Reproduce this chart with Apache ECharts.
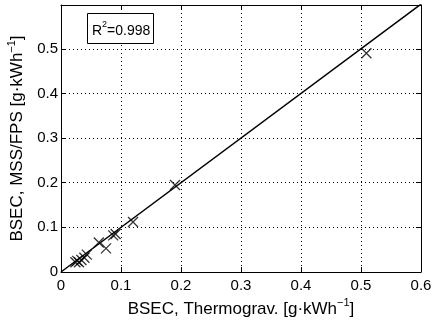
<!DOCTYPE html>
<html><head><meta charset="utf-8">
<script src="https://cdn.jsdelivr.net/npm/echarts@6/dist/echarts.min.js"></script>
<style>html,body{margin:0;padding:0;background:#fff}#c{width:432px;height:321px}</style>
</head><body><div id="c"></div>
<script>
var xThermo = [0.509, 0.190, 0.120, 0.087, 0.091, 0.075, 0.063, 0.043, 0.039, 0.034, 0.030, 0.027, 0.024];
var yMSS    = [0.490, 0.195, 0.112, 0.082, 0.085, 0.053, 0.066, 0.039, 0.032, 0.027, 0.022, 0.025, 0.022];
var fitLine = [[0, 0], [0.6, 0.6]];
var xTicks = [0, 0.1, 0.2, 0.3, 0.4, 0.5, 0.6];
var yTicks = [0, 0.1, 0.2, 0.3, 0.4, 0.5];
var r2Text = '{a|R}{s|2}{a|=0.998}';

var font = 'Liberation Sans, Arial, Helvetica, sans-serif';
var chart = echarts.init(document.getElementById('c'), null, {renderer: 'canvas'});
function fmt(v){ return v === 0 ? '0' : String(+v.toFixed(1)); }
var commonAxis = {
  axisLine: {show: true, onZero: false, lineStyle: {color: '#000', width: 1}},
  axisTick: {show: true, inside: true, length: 5, lineStyle: {color: '#000'}},
  splitLine: {show: true, lineStyle: {color: '#000', type: [1, 3], width: 1}},
};
var titleRich = {
  a: {fontFamily: font, fontSize: 17, color: '#000', lineHeight: 20, verticalAlign: 'bottom'},
  s: {fontFamily: font, fontSize: 11, color: '#000', lineHeight: 20, verticalAlign: 'top', padding: [0, 0, 8, 0]}
};
var option = {
  animation: false,
  grid: {left: 61, right: 11, top: 5, bottom: 49, containLabel: false, outerBoundsMode: 'none'},
  xAxis: [
    Object.assign({}, commonAxis, {
      type: 'value', min: 0, max: 0.6, interval: 0.1, position: 'bottom',
      axisLabel: {color: '#000', fontFamily: font, fontSize: 15, margin: 6, formatter: fmt},
      name: '{a|BSEC, Thermograv. [g·kWh}{s|−1}{a|]}', nameLocation: 'middle', nameGap: 25,
      nameTextStyle: {rich: titleRich}
    }),
    Object.assign({}, commonAxis, {
      type: 'value', min: 0, max: 0.6, interval: 0.1, position: 'top',
      axisLabel: {show: false}, splitLine: {show: false}
    })
  ],
  yAxis: [
    Object.assign({}, commonAxis, {
      type: 'value', min: 0, max: 0.598, interval: 0.1, position: 'left',
      axisLabel: {color: '#000', fontFamily: font, fontSize: 15, margin: 3, formatter: fmt, showMaxLabel: false},
      name: '{a|BSEC, MSS/FPS [g·kWh}{s|−1}{a|]}', nameLocation: 'middle', nameGap: 31,
      nameTextStyle: {rich: titleRich}
    }),
    Object.assign({}, commonAxis, {
      type: 'value', min: 0, max: 0.598, interval: 0.1, position: 'right',
      axisLabel: {show: false}, splitLine: {show: false}
    })
  ],
  graphic: [
    {type: 'rect', left: 87, top: 13, shape: {width: 66, height: 30}, style: {fill: '#fff', stroke: '#000', lineWidth: 1}, z: 100},
    {type: 'text', left: 92, top: 20, style: {text: r2Text, rich: {
      a: {fontFamily: font, fontSize: 14, fill: '#000', lineHeight: 18, verticalAlign: 'bottom'},
      s: {fontFamily: font, fontSize: 9, fill: '#000', lineHeight: 18, verticalAlign: 'top', padding: [0, 0, 7, 0]}
    }}, z: 101}
  ],
  series: [
    {type: 'line', data: fitLine, showSymbol: false, symbol: 'none', lineStyle: {color: '#000', width: 1.5}, clip: true, z: 3},
    {type: 'scatter', data: xThermo.map(function(x, i){ return [x, yMSS[i]]; }),
     symbol: 'path://M0,0L10,10M10,0L0,10', symbolSize: 10,
     itemStyle: {color: 'rgba(0,0,0,0)', borderColor: '#000', borderWidth: 1.3}, z: 4}
  ]
};
chart.setOption(option);
</script></body></html>
